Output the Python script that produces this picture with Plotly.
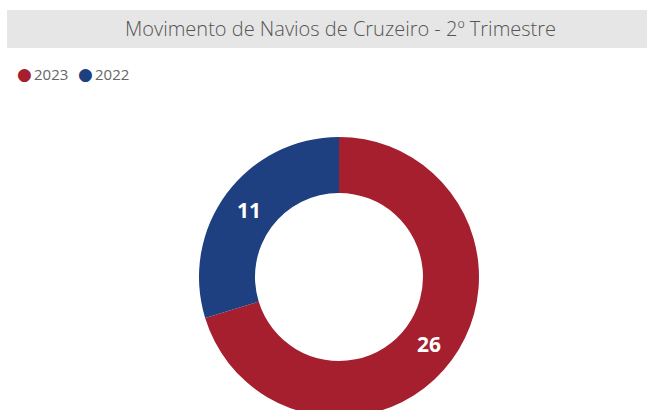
import plotly.graph_objects as go

years = ["2023", "2022"]
ships = [26, 11]
colors = ["#A51F2E", "#1E3F80"]
title_text = "Movimento de Navios de Cruzeiro - 2º Trimestre"

W, H = 647, 420
cx, cy, r = 339, 277, 140

fig = go.Figure()
fig.add_trace(go.Pie(
    labels=years,
    values=ships,
    hole=0.6,
    sort=False,
    direction="clockwise",
    rotation=0,
    marker=dict(colors=colors, line=dict(width=0)),
    textinfo="value",
    textposition="inside",
    insidetextorientation="horizontal",
    textfont=dict(color="white", size=21, family="Open Sans", weight="bold"),
    showlegend=False,
    domain=dict(x=[(cx - r) / W, (cx + r) / W], y=[(H - cy - r) / H, (H - cy + r) / H]),
))

# title bar
fig.add_shape(type="rect", xref="paper", yref="paper",
              x0=7 / W, x1=1, y0=(H - 48) / H, y1=(H - 10) / H,
              fillcolor="#E6E6E6", line=dict(width=0), layer="below")
fig.add_annotation(x=340 / W, y=(H - 29) / H, xref="paper", yref="paper",
                   text=title_text, showarrow=False,
                   font=dict(family="Open Sans", size=20, color="#555555", weight=300),
                   xanchor="center", yanchor="middle")

# legend (circle markers + labels)
leg_y = (H - 74) / H
dot_x = [24, 85]
for i, (yr, col) in enumerate(zip(years, colors)):
    fig.add_annotation(x=dot_x[i] / W, y=leg_y, xref="paper", yref="paper",
                       text="●", showarrow=False,
                       font=dict(family="DejaVu Sans", size=17, color=col),
                       xanchor="center", yanchor="middle")
    fig.add_annotation(x=(dot_x[i] + 8) / W, y=leg_y, xref="paper", yref="paper",
                       text=yr, showarrow=False,
                       font=dict(family="Open Sans", size=15, color="#666666"),
                       xanchor="left", yanchor="middle")

fig.update_layout(width=W, height=H, margin=dict(l=0, r=0, t=0, b=0),
                  paper_bgcolor="white", plot_bgcolor="white")
fig.write_html("out.html",
               config={"displayModeBar": False},
               post_script="document.body.style.margin='0';document.body.style.overflow='hidden';")
